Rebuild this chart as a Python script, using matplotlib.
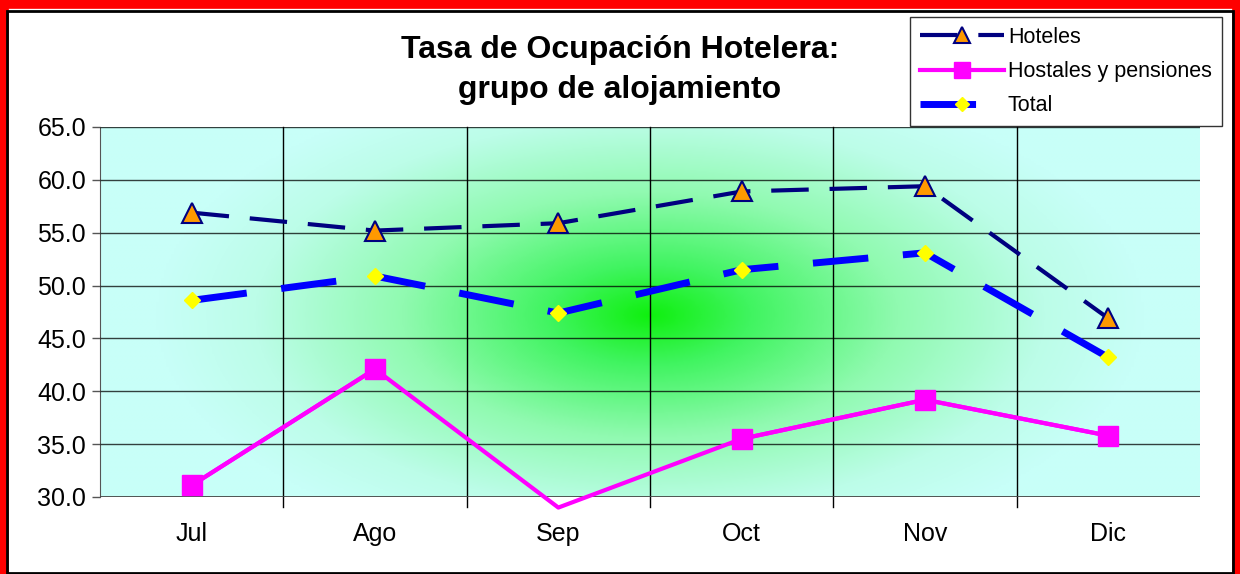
import numpy as np
import matplotlib
matplotlib.use("Agg")
import matplotlib.pyplot as plt
from matplotlib.patches import Rectangle
from matplotlib.colors import LinearSegmentedColormap

plt.rcParams['font.family'] = ['Liberation Sans', 'DejaVu Sans']

months = ["Jul", "Ago", "Sep", "Oct", "Nov", "Dic"]
hoteles = [56.9, 55.2, 55.9, 58.9, 59.4, 46.9]
hostales = [31.1, 42.1, 29.0, 35.5, 39.2, 35.8]
total = [48.6, 50.9, 47.4, 51.5, 53.1, 43.2]
yticks = [30, 35, 40, 45, 50, 55, 60, 65]

fig = plt.figure(figsize=(12.4, 5.74), dpi=100)
fig.patch.set_facecolor('white')

ax = fig.add_axes([100/1240, 77/574, 1100/1240, 370/574])
x = np.arange(len(months))
ax.set_xlim(-0.5, len(months) - 0.5)
ax.set_ylim(30, 65)

# radial gradient background
gx, gy = np.meshgrid(np.linspace(0, 1, 440), np.linspace(0, 1, 200))
cx, cy = (650 - 100) / 1100, (574 - 315 - 77) / 370
r = np.sqrt(((gx - cx) / 0.45) ** 2 + ((gy - cy) / 0.66) ** 2)
r = np.clip(r, 0, 1)
cmap = LinearSegmentedColormap.from_list('g', [(0.0, '#10f010'), (0.2, '#40f460'),
                                                (0.5, '#90fab0'), (0.8, '#bcfde8'), (1.0, '#c8fff8')])
ax.imshow(r, cmap=cmap, extent=[0, 1, 0, 1], origin='lower', transform=ax.transAxes,
          aspect='auto', zorder=0, interpolation='bilinear')

ax.set_yticks(yticks)
ax.set_yticklabels([f"{v:.1f}" for v in yticks], fontsize=18)
ax.set_xticks(x)
ax.set_xticklabels(months, fontsize=18)
ax.tick_params(axis='x', length=0, pad=18)
ax.tick_params(axis='y', length=6, width=1, color='#555555', pad=4, direction='out')
ax.yaxis.grid(True, color='black', lw=1, alpha=0.75)
for b in np.arange(0.5, len(months) - 0.5, 1):
    ax.axvline(b, ymin=-0.028, ymax=1, color='black', lw=1, clip_on=False, zorder=1)
ax.set_axisbelow(False)
for s in ['top', 'right', 'bottom']:
    ax.spines[s].set_visible(False)
ax.spines['left'].set_color('#555555')
ax.axhline(30, color='#555555', lw=2, zorder=1)

ax.plot(x, hoteles, color='#000080', lw=3, ls=(0, (9, 5)), marker='^', ms=14,
        mfc='#ff9900', mec='#000080', mew=1.5, zorder=4, label='Hoteles')
hm = np.array(hostales, dtype=float)
ax.plot(x, hostales, color='#ff00ff', lw=3, zorder=3, clip_on=False)
hm_vis = np.where(hm >= 30, hm, np.nan)
ax.plot(x, hm_vis, color='#ff00ff', lw=3, marker='s', ms=14, mfc='#ff00ff', mec='#ff00ff',
        zorder=3, label='Hostales y pensiones')
ax.plot(x, total, color='#0000ff', lw=5, ls=(0, (8, 5)), marker='D', ms=8.5,
        mfc='#ffff00', mec='#ffff00', zorder=5, label='Total')

leg = fig.legend(loc='upper left', bbox_to_anchor=(910/1240, 1 - 17/574), fontsize=15.5,
                 frameon=True, fancybox=False, edgecolor='black', handlelength=3.9,
                 borderpad=0.45, labelspacing=0.62, handletextpad=0.2, borderaxespad=0,
                 markerscale=0.85)
leg.get_frame().set_linewidth(1)

fig.text(620/1240, 1 - 70/574, "Tasa de Ocupación Hotelera:\ngrupo de alojamiento",
         ha='center', va='center', fontsize=23, fontweight='bold', linespacing=1.45)

# borders
fig.patches.append(Rectangle((0, -0.05), 1, 1.05, transform=fig.transFigure, fill=False,
                             edgecolor='red', lw=12, zorder=10))
fig.patches.append(Rectangle((7/1240, 1/574), 1226/1240, 562/574, transform=fig.transFigure,
                             fill=False, edgecolor='black', lw=2, zorder=11))

fig.savefig('out.png', dpi=100)
